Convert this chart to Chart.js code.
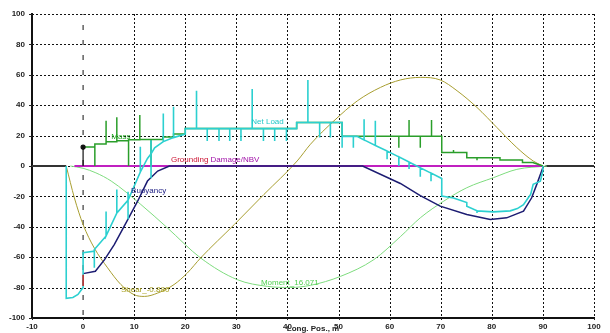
<!DOCTYPE html>
<html>
<head>
<meta charset="utf-8">
<script src="https://cdn.jsdelivr.net/npm/chart.js@4.4.1/dist/chart.umd.min.js"></script>
<style>
  html, body { margin: 0; padding: 0; background: #fff; }
  #wrap { width: 610px; height: 333px; }
</style>
</head>
<body>
<div id="wrap"><canvas id="chart"></canvas></div>
<script>
// values, [x (m), y]
const netLoad = [
  [-3.3,0],[-3.3,-87],[-2,-86.5],[-1,-84.5],[0,-80],[0,-57],[2.2,-56],[2.2,-67],[2.2,-55],
  [4.5,-46],[4.5,-30],[4.5,-46],[6.6,-31],[6.6,-15.5],[6.6,-31],
  [8.8,-22.5],[8.8,-17],[8.8,-35],[8.8,-22.5],[11.2,-4],[11.2,12.7],[11.2,-4],
  [12.6,5],[13.3,8],[13.3,17],[13.3,-8],[13.3,8],[14,12],
  [15.7,16],[15.7,34.5],[15.7,16],[17.7,18.7],[17.7,39],[17.7,18.7],
  [20,21],[20,24.6],[22.2,24.6],[22.2,49.5],[22.2,24.6],
  [24.3,24.6],[24.3,16.5],[24.3,24.6],[26.6,24.6],[26.6,16.5],[26.6,24.6],
  [28.7,24.6],[28.7,16.5],[28.7,24.6],[30.9,24.6],[30.9,16.5],[30.9,24.6],
  [33.1,24.6],[33.1,50.6],[33.1,24.6],[35.3,24.6],[35.3,16.5],[35.3,24.6],
  [37.5,24.6],[37.5,16.5],[37.5,24.6],[39.8,24.6],[39.8,16.5],[39.8,24.6],
  [41.8,24.6],[41.8,28.6],[44,28.6],[44,56.5],[44,28.6],
  [46.3,28.6],[46.3,18.7],[46.3,28.6],[48.4,28.6],[48.4,18.7],[48.4,28.6],
  [50.7,28.6],[50.7,19.5],[50.7,12],[50.7,19.5],[52.9,19.5],[52.9,12],[52.9,19.5],
  [53.6,19.5],[55,17.2],[55,30.8],[55,17.2],[57.2,13.5],[57.2,29.7],[57.2,13.5],
  [59.5,9.8],[59.5,4.5],[59.5,9.8],[61.8,6],[61.8,0],[61.8,6],
  [63.8,2.6],[63.8,-2],[63.8,2.6],[66,-1.2],[66,-7],[66,-1.2],
  [68.1,-4.7],[68.1,-10],[68.1,-4.7],[70.2,-8.2],[70.2,-19.8],[72.5,-21],
  [75.1,-24],[75.1,-26.5],[77.1,-29.5],[77.1,-31],[77.1,-29.5],[80.3,-30.2],
  [83.6,-29.5],[85,-28],[86.2,-25.5],[87,-21.5],[87.6,-18.7],[88.1,-12],
  [89.5,-10],[90,-3],[90,0]
];
const mass = [
  [0,12.5],[2.3,12.5],[2.3,0],[2.3,14.5],[4.5,14.5],[4.5,29.7],[4.5,16],
  [6.6,16],[6.6,32],[6.6,16.6],[8.9,16.6],[8.9,0],[8.9,17.2],[11.1,17.2],
  [11.1,33.5],[11.1,17.5],[13.3,17.5],[13.3,0],[13.3,17.5],[15.6,17.5],
  [15.6,19],[17.7,19],[17.7,21],[20,21],[20,24.6],[41.8,24.6],[41.8,28.6],
  [50.7,28.6],[50.7,19.5],[61.8,19.5],[61.8,12],[61.8,19.5],[63.8,19.5],
  [63.8,30.3],[63.8,19.5],[66,19.5],[66,12],[66,19.5],[68.2,19.5],[68.2,30.3],
  [68.2,19.5],[70.2,19.5],[70.2,8.8],[72.5,8.8],[72.5,10.5],[72.5,8.8],
  [75.1,8.8],[75.1,5.5],[77.1,5.5],[77.1,3.8],[77.1,5.5],[81.6,5.5],
  [81.6,4],[86,4],[86,2.3],[88,2.3],[90,0]
];
const buoyancy = [
  [0,-70.8],[2.4,-69.3],[4.2,-61.6],[6.1,-51.7],[8.4,-37.4],[10.7,-23],
  [12.6,-9.9],[14.6,-3.3],[16.9,0],[54.7,0],[62.1,-11.5],[66,-19.5],
  [69.9,-26.4],[75.1,-31.9],[79.7,-35.2],[82.9,-34.1],[86.2,-29.7],
  [87.8,-20.9],[88.8,-12.1],[90,-1]
];
const shear = [
  [-3.3,0],[-1.7,-21],[0,-38.5],[2.2,-54],[4.8,-67],[7.4,-78],[10,-84.7],
  [12,-85.8],[14.6,-83.6],[17.8,-78],[20.4,-70.4],[23,-60.5],[29.6,-38.5],
  [35.4,-18.7],[41.9,3.3],[44.5,14.3],[49.1,29.7],[53.7,42.9],[58.2,51.7],
  [62.1,56.6],[66,58.3],[69.9,56.6],[73.2,49.5],[77.1,38.5],[81,25.3],
  [84.9,12.1],[88.1,3.3],[90,0]
];
const moment = [
  [-2.5,0],[0,-1.5],[2.5,-4.5],[5.5,-9.9],[11.3,-25.3],[16.5,-40.7],[23,-60.5],
  [30.2,-74.8],[36.1,-79.2],[40.6,-79.9],[44.5,-78.5],[50.4,-72.6],[56.9,-61.6],
  [62.1,-46.5],[66,-34.1],[70.6,-23.1],[75.1,-14.3],[80.3,-7.7],[84.9,-2.2],[90.8,0]
];
const grounding = [[-1.7,0],[90,0]];
const baseLeft = [[-10,0],[-3.3,0]];
const baseRight = [[90.5,0],[100,0]];
const bowLine = [[0,100],[0,-100]];
const bowMass = [[0,0],[0,12.5]];
const bowRed = [[0,-71.5],[0,-79]];

const xTicks = [-10, 0, 10, 20, 30, 40, 50, 60, 70, 80, 90, 100];
const yTicks = [-100, -80, -60, -40, -20, 0, 20, 40, 60, 80, 100];

// text labels on the plot: [text, x, y, colour, align]
const plotLabels = [
  ['Mass', 7.4, 19.5, '#22a822', 'center'],
  ['Net Load', 36.1, 29, '#20c8c8', 'center'],
  ['Grounding ', 17.2, 4, '#cc1030', 'left'],
  ['Buoyancy', 9.4, -16.5, '#1a1a80', 'left'],
  ['Shear_-0.880', 7.4, -81.5, '#a8a020', 'left'],
  ['Moment_16.071', 34.8, -77, '#50d050', 'left']
];

const xy = pts => pts.map(p => ({ x: p[0], y: p[1] }));

function series(label, pts, color, width, order, extra) {
  return Object.assign({
    label: label,
    data: xy(pts),
    borderColor: color,
    backgroundColor: color,
    borderWidth: width,
    showLine: true,
    pointRadius: 0,
    tension: 0,
    order: order
  }, extra || {});
}

// dotted grid, drawn by hand so the dot pattern matches
const gridPlugin = {
  id: 'dotGrid',
  beforeDatasetsDraw(chart) {
    const ctx = chart.ctx, a = chart.chartArea, xs = chart.scales.x, ys = chart.scales.y;
    ctx.save();
    ctx.strokeStyle = '#111';
    ctx.lineWidth = 1;
    ctx.setLineDash([2, 2]);
    ctx.beginPath();
    xTicks.forEach(v => {
      if (v === 0 || v === xTicks[0]) return;
      const px = Math.round(xs.getPixelForValue(v)) + 0.5;
      ctx.moveTo(px, a.top); ctx.lineTo(px, a.bottom);
    });
    yTicks.forEach(v => {
      if (v === yTicks[0]) return;
      const py = Math.round(ys.getPixelForValue(v)) + 0.5;
      ctx.moveTo(a.left, py); ctx.lineTo(a.right, py);
    });
    ctx.stroke();
    // small tick marks outside the axes
    ctx.setLineDash([]);
    ctx.strokeStyle = '#222';
    ctx.beginPath();
    yTicks.forEach(v => {
      const py = Math.round(ys.getPixelForValue(v)) + 0.5;
      ctx.moveTo(a.left - 3, py); ctx.lineTo(a.left, py);
    });
    xTicks.forEach(v => {
      const px = Math.round(xs.getPixelForValue(v)) + 0.5;
      ctx.moveTo(px, a.bottom); ctx.lineTo(px, a.bottom + 2);
    });
    ctx.stroke();
    ctx.restore();
  }
};

const labelPlugin = {
  id: 'plotLabels',
  afterDatasetsDraw(chart) {
    const ctx = chart.ctx, xs = chart.scales.x, ys = chart.scales.y;
    ctx.save();
    ctx.font = '8px "Liberation Sans", Arial, sans-serif';
    ctx.textBaseline = 'middle';
    plotLabels.forEach(l => {
      ctx.fillStyle = l[3];
      ctx.textAlign = l[4];
      ctx.fillText(l[0], xs.getPixelForValue(l[1]), ys.getPixelForValue(l[2]));
      if (l[0] === 'Grounding ') {
        const w = ctx.measureText(l[0]).width;
        ctx.fillStyle = '#a010a8';
        ctx.fillText('Damage/NBV', xs.getPixelForValue(l[1]) + w, ys.getPixelForValue(l[2]));
      }
    });
    // axis title
    ctx.fillStyle = '#222';
    ctx.font = 'bold 8px "Liberation Sans", Arial, sans-serif';
    ctx.textAlign = 'center';
    ctx.fillText('Long. Pos., m', (chart.chartArea.left + chart.chartArea.right) / 2, 329);
    ctx.restore();
  }
};

new Chart(document.getElementById('chart'), {
  type: 'scatter',
  data: {
    datasets: [
      series('Net Load', netLoad, '#2cd0d0', 1.6, 1),
      series('Mass', mass, '#2a9e2a', 1.5, 2),
      series('Buoyancy', buoyancy, '#1c1c72', 1.5, 3),
      series('Grounding Damage/NBV', grounding, '#c020c0', 2, 4),
      series('Shear', shear, '#a89e30', 1, 5, { cubicInterpolationMode: 'monotone' }),
      series('Moment', moment, '#7edc7e', 1, 6, { cubicInterpolationMode: 'monotone' }),
      series('base', baseLeft, '#333', 2, 7),
      series('base2', baseRight, '#333', 2, 7),
      series('bowMass', bowMass, '#111', 1.2, 0, { pointRadius: [0, 2] }),
      series('bowRed', bowRed, '#d02020', 1.5, 0),
      series('bow', bowLine, '#111', 1, 8, { borderDash: [5, 10], borderDashOffset: 4 })
    ]
  },
  options: {
    responsive: true,
    maintainAspectRatio: false,
    animation: false,
    layout: { padding: { top: 14, right: 16, left: 0, bottom: 0 } },
    plugins: { legend: { display: false }, tooltip: { enabled: false } },
    scales: {
      x: {
        type: 'linear', min: -10, max: 100,
        afterBuildTicks: s => { s.ticks = xTicks.map(v => ({ value: v })); },
        afterFit: s => { s.height = 15; },
        grid: { display: false, tickLength: 2 },
        border: { display: true, color: '#111', width: 2 },
        ticks: {
          color: '#222', padding: 2, maxRotation: 0, autoSkip: false,
          font: { family: '"Liberation Sans", Arial, sans-serif', size: 8, weight: 'bold' }
        }
      },
      y: {
        type: 'linear', min: -100, max: 100,
        afterBuildTicks: s => { s.ticks = yTicks.map(v => ({ value: v })); },
        afterFit: s => { s.width = 32; },
        grid: { display: false, tickLength: 3 },
        border: { display: true, color: '#111', width: 2 },
        ticks: {
          color: '#222', padding: 4, autoSkip: false,
          font: { family: '"Liberation Sans", Arial, sans-serif', size: 8, weight: 'bold' }
        }
      }
    }
  },
  plugins: [gridPlugin, labelPlugin]
});
</script>
</body>
</html>
